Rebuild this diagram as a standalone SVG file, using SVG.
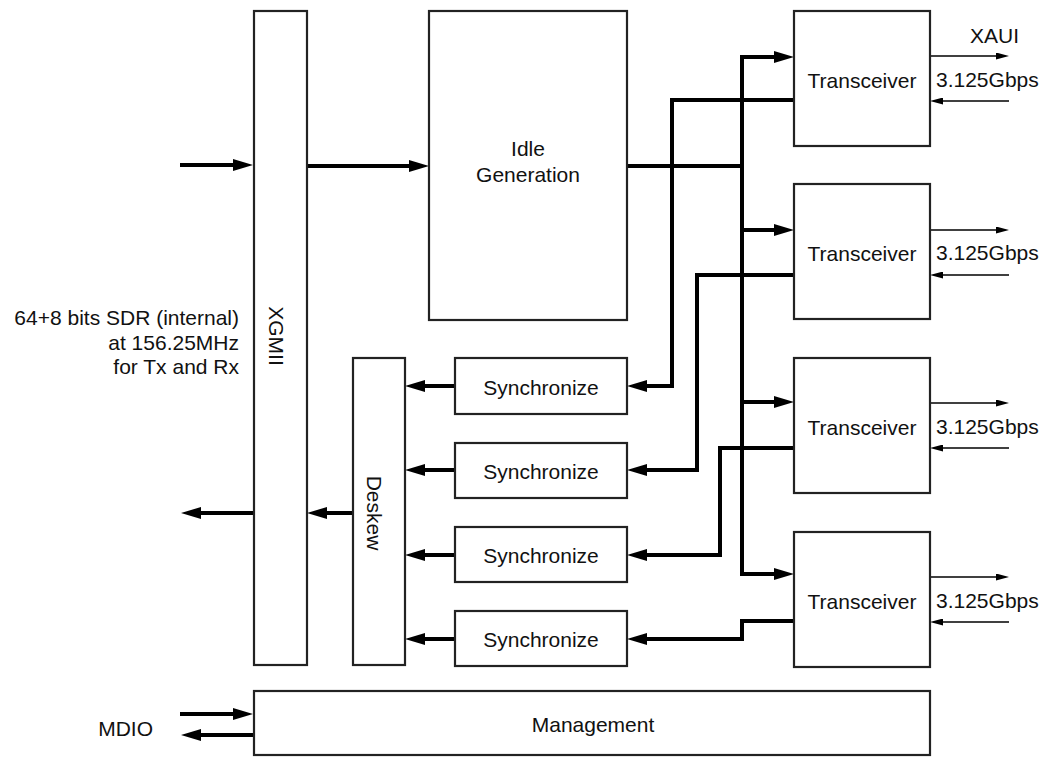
<svg xmlns="http://www.w3.org/2000/svg" width="1045" height="757" viewBox="0 0 1045 757">
<defs>
<style>
.box{fill:#fff;stroke:#222;stroke-width:2.2}
.t{font-family:"Liberation Sans",Arial,sans-serif;font-size:21px;fill:#111}
.c{text-anchor:middle}
.thick{fill:none;stroke:#000;stroke-width:4;stroke-linejoin:miter}
.thin{fill:none;stroke:#000;stroke-width:1.5}
.ah{marker-end:url(#big)}
.ahs{marker-start:url(#bigs)}
.ta{marker-end:url(#small)}
</style>
<marker id="big" markerUnits="userSpaceOnUse" viewBox="0 0 20 12" refX="10" refY="6" markerWidth="20" markerHeight="12" orient="auto"><path d="M0,0 L20,6 L0,12 z" fill="#000"/></marker>
<marker id="bigs" markerUnits="userSpaceOnUse" viewBox="0 0 20 12" refX="10" refY="6" markerWidth="20" markerHeight="12" orient="auto-start-reverse"><path d="M0,0 L20,6 L0,12 z" fill="#000"/></marker>
<marker id="small" markerUnits="userSpaceOnUse" viewBox="0 0 13 7" refX="6.5" refY="3.5" markerWidth="13" markerHeight="7" orient="auto"><path d="M0,0 L13,3.5 L0,7 z" fill="#000"/></marker>
</defs>
<rect width="1045" height="757" fill="#fff"/>

<g id="connectors">
<path class="thick ah" d="M180,165 H243"/>
<path class="thick ah" d="M307,166 H419"/>
<path class="thick" d="M627,166 H744"/>
<path class="thick ah ahs" d="M784,574 H742 V57 H784"/>
<path class="thick ah" d="M742,230 H784"/>
<path class="thick ah" d="M742,402 H784"/>
<path class="thick ah" d="M794,100 H672 V386 H637"/>
<path class="thick ah" d="M794,275 H697 V470 H637"/>
<path class="thick ah" d="M794,448 H720 V555 H637"/>
<path class="thick ah" d="M794,621 H742 V639 H637"/>
<path class="thick ah" d="M455,386 H415"/>
<path class="thick ah" d="M455,470 H415"/>
<path class="thick ah" d="M455,555 H415"/>
<path class="thick ah" d="M455,639 H415"/>
<path class="thick ah" d="M353,513 H317"/>
<path class="thick ah" d="M254,513 H191"/>
<path class="thick ah" d="M180,714 H243"/>
<path class="thick ah" d="M254,735 H191"/>
<path class="thin ta" d="M930,56 H1002.5"/>
<path class="thin ta" d="M1009,101 H936.5"/>
<path class="thin ta" d="M930,230 H1002.5"/>
<path class="thin ta" d="M1009,275 H936.5"/>
<path class="thin ta" d="M930,403 H1002.5"/>
<path class="thin ta" d="M1009,448 H936.5"/>
<path class="thin ta" d="M930,577 H1002.5"/>
<path class="thin ta" d="M1009,622 H936.5"/>
</g>

<g id="xgmii"><rect class="box" x="254" y="11" width="53" height="654"/><text class="t c" transform="translate(269,336) rotate(90)">XGMII</text></g>
<g id="idle"><rect class="box" x="429" y="11" width="198" height="309"/><text class="t c" x="528" y="156">Idle</text><text class="t c" x="528" y="182">Generation</text></g>
<g id="deskew"><rect class="box" x="353" y="358" width="52" height="307"/><text class="t c" transform="translate(367,513) rotate(90)">Deskew</text></g>
<g id="sync1"><rect class="box" x="455" y="358" width="172" height="56"/><text class="t c" x="541" y="395">Synchronize</text></g>
<g id="sync2"><rect class="box" x="455" y="443" width="172" height="55"/><text class="t c" x="541" y="479">Synchronize</text></g>
<g id="sync3"><rect class="box" x="455" y="527" width="172" height="55"/><text class="t c" x="541" y="563">Synchronize</text></g>
<g id="sync4"><rect class="box" x="455" y="611" width="172" height="55"/><text class="t c" x="541" y="647">Synchronize</text></g>
<g id="trx1"><rect class="box" x="794" y="11" width="136" height="135"/><text class="t c" x="862" y="88">Transceiver</text></g>
<g id="trx2"><rect class="box" x="794" y="184" width="136" height="135"/><text class="t c" x="862" y="261">Transceiver</text></g>
<g id="trx3"><rect class="box" x="794" y="358" width="136" height="135"/><text class="t c" x="862" y="435">Transceiver</text></g>
<g id="trx4"><rect class="box" x="794" y="532" width="136" height="135"/><text class="t c" x="862" y="609">Transceiver</text></g>
<g id="management"><rect class="box" x="254" y="691" width="676" height="64"/><text class="t c" x="593" y="732">Management</text></g>

<g id="labels">
<text class="t" x="970" y="43">XAUI</text>
<text class="t" x="936" y="87">3.125Gbps</text>
<text class="t" x="936" y="260">3.125Gbps</text>
<text class="t" x="936" y="434">3.125Gbps</text>
<text class="t" x="936" y="608">3.125Gbps</text>
<text class="t" text-anchor="end" x="239" y="325">64+8 bits SDR (internal)</text>
<text class="t" text-anchor="end" x="239" y="350">at 156.25MHz</text>
<text class="t" text-anchor="end" x="239" y="374">for Tx and Rx</text>
<text class="t" text-anchor="end" x="153" y="736">MDIO</text>
</g>
</svg>
